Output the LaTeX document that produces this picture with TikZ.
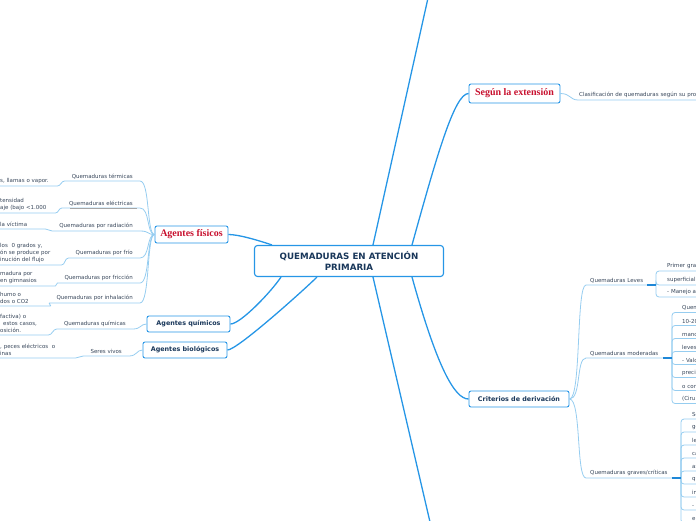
\documentclass[tikz,border=0pt]{standalone}
\usepackage{fontspec}
\setmainfont{DejaVu Sans}
\newfontfamily\redfont{Liberation Serif}
\definecolor{mainblue}{RGB}{38,150,230}
\definecolor{subblue}{RGB}{150,205,240}
\definecolor{stemblue}{RGB}{30,135,215}
\definecolor{navy}{RGB}{25,55,90}
\definecolor{txtgray}{RGB}{55,70,90}
\definecolor{redtxt}{RGB}{200,16,46}
\begin{document}
\begin{tikzpicture}[x=1pt,y=-1pt,
    central/.style={draw=mainblue,line width=1.1pt,rounded corners=3pt,fill=white,minimum width=189pt,minimum height=31pt,align=center,font=\fontsize{8.7}{10.5}\selectfont\bfseries,text=navy},
    topic/.style={draw=mainblue,line width=0.9pt,rounded corners=2pt,fill=white,minimum height=16pt,inner xsep=3pt,font=\fontsize{6.4}{8}\selectfont\bfseries,text=navy},
    redtopic/.style={topic,font=\redfont\fontsize{10}{12}\selectfont\bfseries,text=redtxt},
    lbl/.style={inner xsep=7pt,inner ysep=2pt,font=\fontsize{5.5}{7}\selectfont,text=txtgray},
    frag/.style={anchor=south west,inner xsep=0pt,inner ysep=2pt,align=left,font=\fontsize{5.5}{7}\selectfont,text=txtgray},
    item/.style={anchor=south west,inner xsep=0pt,inner ysep=2pt,text width=40pt,align=left,font=\fontsize{5.5}{7}\selectfont,text=txtgray},
    mainline/.style={draw=mainblue,line width=1.3pt},
    subline/.style={draw=subblue,line width=0.8pt},
    stem/.style={draw=stemblue,line width=1.4pt}]
    \useasboundingbox (0,0) rectangle (696,520);

    \node[central] (C) at (349,261) {QUEMADURAS EN ATENCIÓN\\PRIMARIA};
    \node[redtopic,minimum width=73pt,minimum height=17pt] (AF) at (191.5,234.5) {Agentes físicos};
    \node[topic,minimum width=83pt] (AQ) at (188.5,324) {Agentes químicos};
    \node[topic,minimum width=84pt] (AB) at (185,350) {Agentes biológicos};
    \node[redtopic,minimum width=91pt,minimum height=19pt] (SE) at (514.5,93.5) {Según la extensión};
    \node[topic,minimum width=100pt] (CD) at (519,399) {Criterios de derivación};
    \coordinate (up) at (428,-2);
    \coordinate (down) at (430,522);

    \draw[mainline] ([xshift=24pt]C.north) -- (up);
    \draw[mainline] ([xshift=24pt]C.south) -- (down);
    \draw[mainline] ([xshift=63pt]C.north) .. controls +(25,-90) and +(-14,0) .. (SE.west);
    \draw[mainline] ([xshift=63pt]C.south) .. controls +(25,90) and +(-14,0) .. (CD.west);
    \draw[mainline] (AF.east) .. controls +(10,0) and +(-15,-5) .. ([xshift=-77pt]C.north);
    \draw[mainline] (AQ.east) .. controls +(10,0) and +(-10,15) .. ([xshift=-68pt]C.south);
    \draw[mainline] (AB.east) .. controls +(10,0) and +(-10,10) .. ([xshift=-32pt]C.south);

    \node[lbl,anchor=south east] (t1) at (140,181) {Quemaduras térmicas};
    \node[lbl,anchor=south east] (t2) at (140,208) {Quemaduras eléctricas};
    \node[lbl,anchor=south east] (t3) at (140,231) {Quemaduras por radiación};
    \node[lbl,anchor=south east] (t4) at (140,258) {Quemaduras por frío};
    \node[lbl,anchor=south east] (t5) at (140,283) {Quemaduras por fricción};
    \node[lbl,anchor=south east] (t6) at (140,303) {Quemaduras por inhalación};
    \node[lbl,anchor=south east] (t7) at (133,329) {Quemaduras químicas};
    \node[lbl,anchor=south east] (t8) at (129,356) {Seres vivos};

    \node[frag,text width=57pt] (f1) at (0,186) {s, llamas o vapor.};
    \node[frag,text width=55pt] (f2) at (0,213) {tensidad\\aje (bajo <1.000};
    \node[frag,text width=45pt] (f3) at (0,229) {la víctima};
    \node[frag,text width=61pt] (f4) at (0,265) {los \ 0 grados y,\\ón se produce por\\inución del flujo};
    \node[frag,text width=55pt] (f5) at (0,286) {madura por\\en gimnasios};
    \node[frag,text width=50pt] (f6) at (0,306) {humo o\\dos o CO2};
    \node[frag,text width=48pt] (f7) at (0,335) {factiva) o\\\hspace*{3pt}estos casos,\\osición.};
    \node[frag,text width=75pt] (f8) at (0,358) {, peces eléctricos \ o\\inas};

    \foreach \i in {1,...,6}
        \draw[subline] (f\i.south west) -- (f\i.south east) to[out=0,in=180] (t\i.south west) -- (t\i.south east) .. controls +(10,0) and +(-8,0) .. (AF.west);
    \draw[subline] (f7.south west) -- (f7.south east) to[out=0,in=180] (t7.south west) -- (t7.south east) .. controls +(8,0) and +(-6,0) .. (AQ.west);
    \draw[subline] (f8.south west) -- (f8.south east) to[out=0,in=180] (t8.south west) -- (t8.south east) .. controls +(8,0) and +(-6,0) .. (AB.west);
    \draw[gray!70,line width=0.8pt] ([xshift=8pt]t2.south west) -- ([xshift=-3pt]t2.south east);

    \node[lbl,anchor=south west,inner xsep=1pt,text width=120pt,align=left] (cl) at (578,100) {Clasificación de quemaduras según su pro};
    \draw[subline] (SE.east) .. controls +(10,0) and +(-8,0) .. (cl.south west) -- (cl.south east);

    \node[lbl,anchor=south west,inner xsep=4pt] (ql) at (586,285) {Quemaduras Leves};
    \node[lbl,anchor=south west,inner xsep=4pt] (qm) at (586,358) {Quemaduras moderadas};
    \node[lbl,anchor=south west,inner xsep=4pt] (qg) at (586,478) {Quemaduras graves/críticas};
    \coordinate (qlk) at (656,285);
    \coordinate (qmk) at (672,358);
    \coordinate (qgk) at (681,478);
    \foreach \q in {ql,qm,qg}
        \draw[subline] (CD.east) .. controls +(12,0) and +(-10,0) .. (\q.south west) -- (\q.south east);

    \node[item] (l1) at (667,271) {Primer gra};
    \node[item] (l2) at (667,285) {superficial};
    \node[item] (l3) at (667,297) {- Manejo a};
    \foreach \i in {1,2,3}
        \draw[subline,rounded corners=3pt] (qlk) |- (l\i.south west) -- (l\i.south east);

    \foreach \t [count=\i] in {Quem,10-20,manc,leves,- Valo,precis,o con,{(Ciru}}
        \node[item] (m\i) at (682,299.5+13*\i) {\t};
    \foreach \i in {1,...,8}
        \draw[subline,rounded corners=3pt] (qmk) |- (m\i.south west) -- (m\i.south east);

    \foreach \t [count=\i] in {Se,ge,le,ca,as,qu,in,-,er}
        \node[item] (g\i) at (692,406+13*\i) {\t};
    \foreach \i in {1,...,9}
        \draw[subline,rounded corners=3pt] (qgk) |- (g\i.south west) -- (g\i.south east);

    \draw[stem] (ql.south east) -- (qlk);
    \draw[stem] (qm.south east) -- (qmk);
    \draw[stem] (qg.south east) -- (qgk);
\end{tikzpicture}
\end{document}
